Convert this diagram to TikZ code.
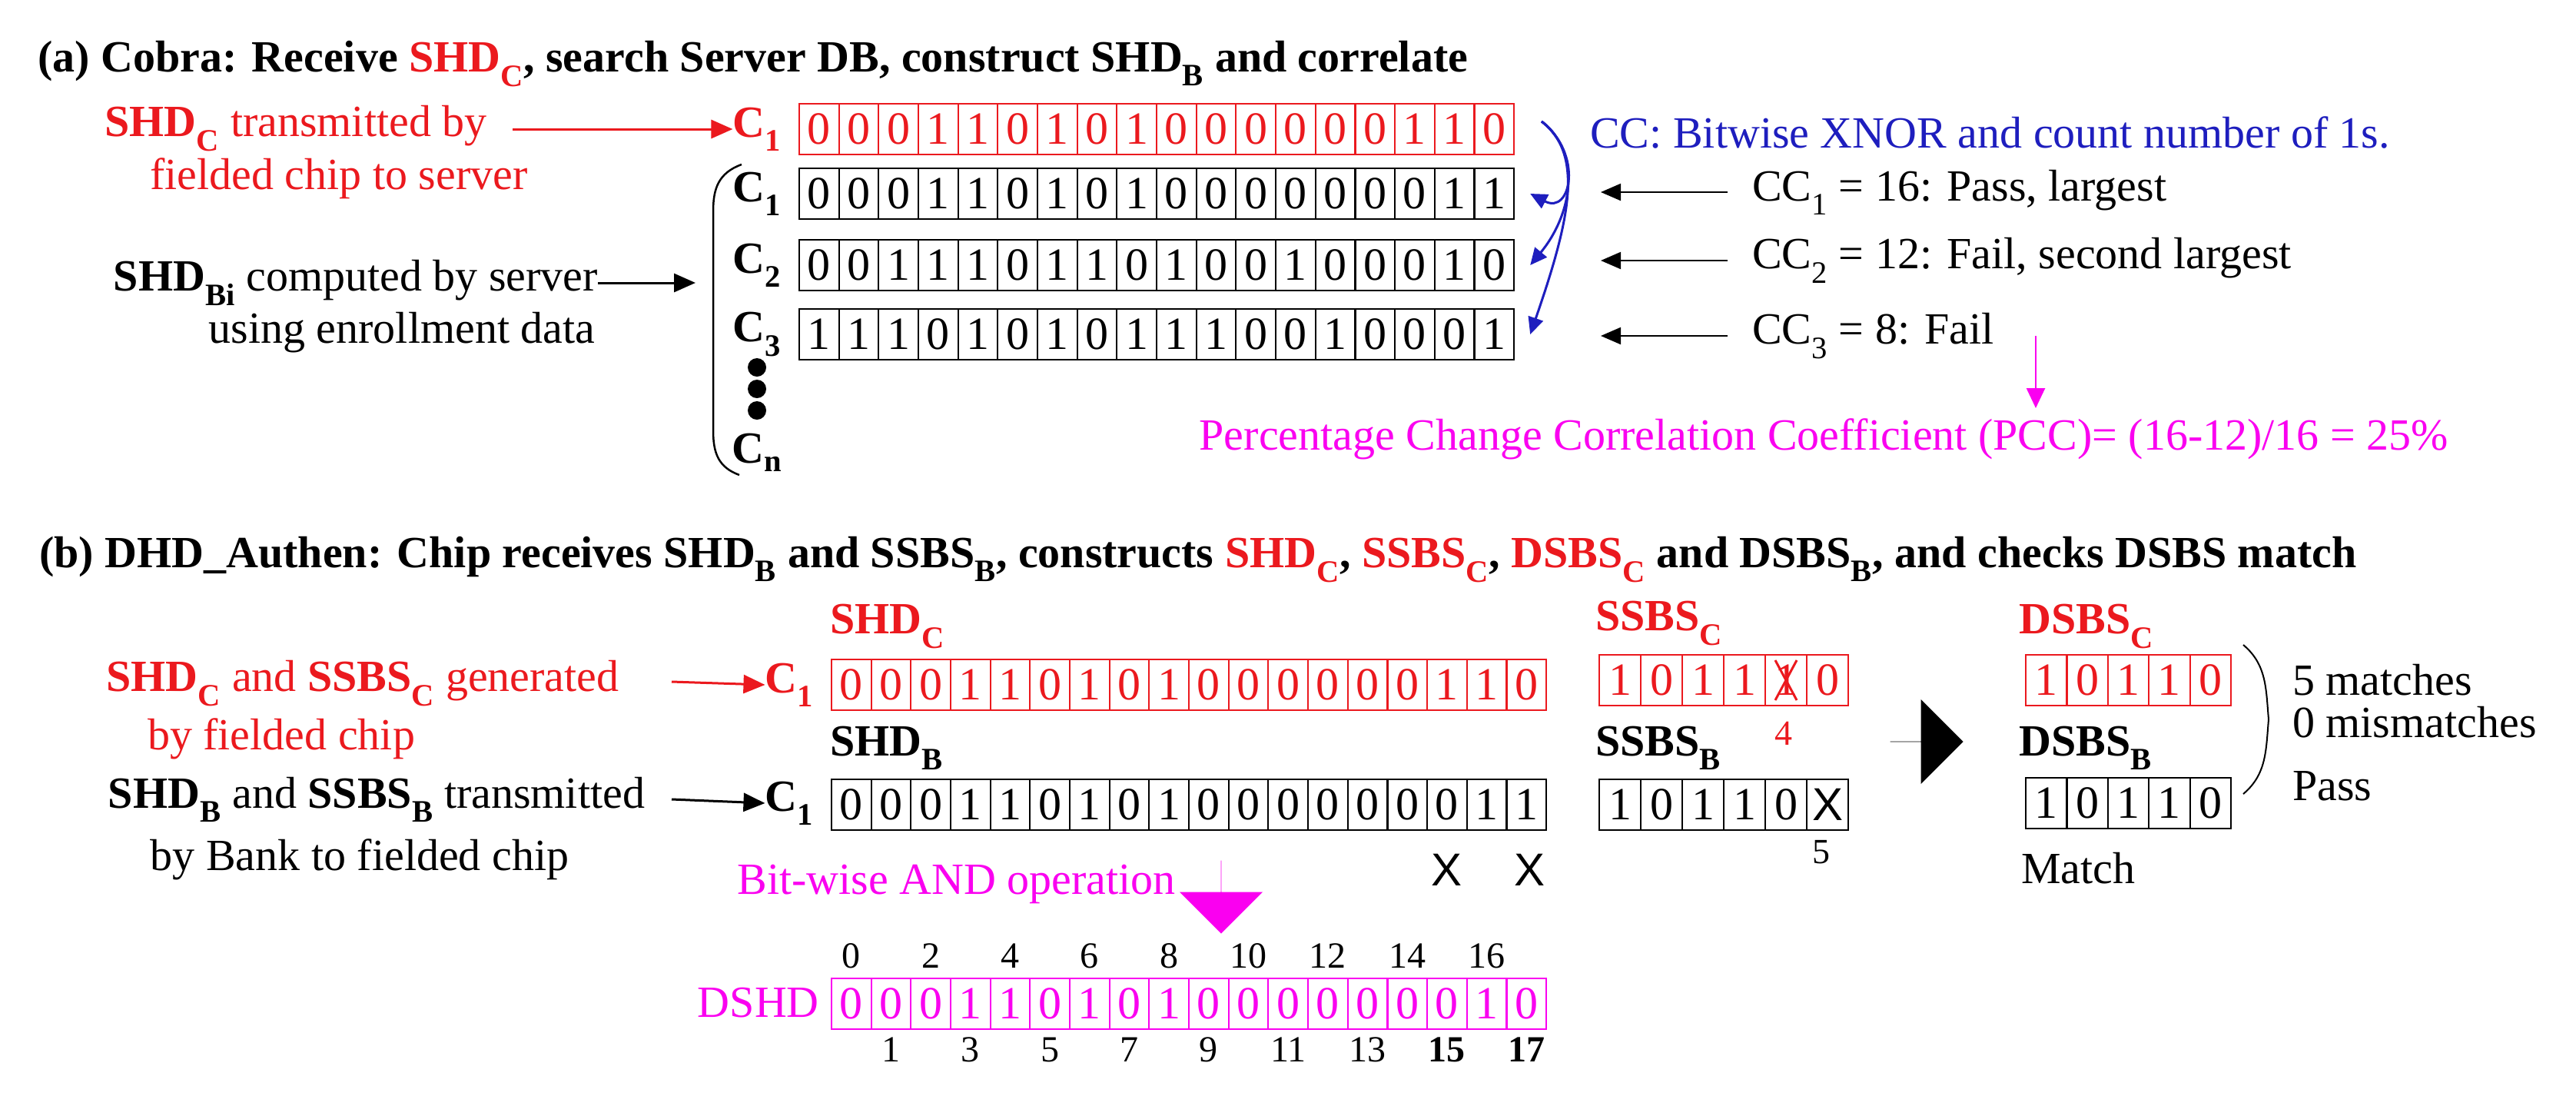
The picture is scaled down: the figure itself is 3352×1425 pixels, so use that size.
\documentclass[tikz,border=0pt]{standalone}
\usepackage{fontspec}
\setmainfont{Liberation Serif}
\newfontfamily\xfont{Liberation Sans}
\usetikzlibrary{shapes.arrows,arrows.meta}
\definecolor{myred}{RGB}{235,25,30}
\definecolor{myblue}{RGB}{30,30,190}
\definecolor{mymag}{RGB}{250,0,240}
\newcommand{\fs}[1]{\fontsize{#1}{#1}\selectfont}
\newcommand{\bitrow}[7]{%
  \foreach \b [count=\i] in {#7} {
    \node[cell, draw=#6, text=#6, minimum width=#4pt] (#1-\i) at ({#2+(\i-0.5)*#4}, #3) {\b};
  }}
\tikzset{
  cell/.style={rectangle, line width=2.2pt, minimum height=66pt, inner sep=0pt, font=\fs{60}},
  lbl/.style={inner sep=0pt, font=\fs{58}},
  blbl/.style={inner sep=0pt, font=\fs{58}\bfseries},
  ttl/.style={inner sep=0pt, anchor=west, font=\fs{58}\bfseries},
  arr/.style={line width=3pt, -{Triangle[length=28pt,width=24pt]}},
  thinarr/.style={line width=2pt, -{Triangle[length=26pt,width=22pt]}},
}
\begin{document}
\begin{tikzpicture}[x=1pt,y=-1pt]
\useasboundingbox (0,0) rectangle (3352,1425);
\fill[white] (0,0) rectangle (3352,1425);
% ---------- (a)
\node[ttl] (ta) at (49,83) {(a) Cobra: Receive \textcolor{myred}{SHD\textsubscript{C}}, search Server DB, construct SHD\textsubscript{B} and correlate};
\bitrow{ra}{1040}{168}{51.67}{66}{myred}{0,0,0,1,1,0,1,0,1,0,0,0,0,0,0,1,1,0}
\bitrow{rb}{1040}{252}{51.67}{66}{black}{0,0,0,1,1,0,1,0,1,0,0,0,0,0,0,0,1,1}
\bitrow{rc}{1040}{345}{51.67}{66}{black}{0,0,1,1,1,0,1,1,0,1,0,0,1,0,0,0,1,0}
\bitrow{rd}{1040}{435}{51.67}{66}{black}{1,1,1,0,1,0,1,0,1,1,1,0,0,1,0,0,0,1}
\node[blbl, text=myred] (ca) at (985,168) {C\textsubscript{1}};
\node[blbl] (cb) at (985,252) {C\textsubscript{1}};
\node[blbl] (cc) at (985,345) {C\textsubscript{2}};
\node[blbl] (cd) at (985,435) {C\textsubscript{3}};
\node[blbl] (cn) at (985,589) {C\textsubscript{n}};
\foreach \yy in {478,506,534} \fill (985,\yy) circle (12pt);
\draw[line width=2.5pt] (965,214) .. controls (935,225) and (928,245) .. (928,275) -- (928,560) .. controls (928,590) and (935,608) .. (962,618);
\node[lbl, text=myred] (la1) at (385,167) {\textbf{SHD\textsubscript{C}} transmitted by};
\node[lbl, text=myred] (la2) at (441,232) {fielded chip to server};
\coordinate (ra0) at (667,168);
\draw[arr, myred] (ra0) -- (ca.west);
\node[lbl] (lb1) at (463,368) {\textbf{SHD\textsubscript{Bi}} computed by server};
\node[lbl] (lb2) at (523,433) {using enrollment data};
\draw[arr] (lb1.east) -- (905,368);
% blue arrows
\coordinate (bs) at (2006,158);
\foreach \r in {rb,rc,rd} \draw[line width=3pt, myblue, -{Triangle[length=22pt,width=20pt]}] (bs) .. controls (2060,200) and (2045,280) .. ([xshift=20pt]\r-18.east);
\node[lbl, text=myblue, anchor=west] (cct) at (2069,172) {CC: Bitwise XNOR and count number of 1s.};
\node[lbl, anchor=west] (cc1) at (2280,250) {CC\textsubscript{1} = 16: Pass, largest};
\node[lbl, anchor=west] (cc2) at (2280,339) {CC\textsubscript{2} = 12: Fail, second largest};
\node[lbl, anchor=west] (cc3) at (2280,437) {CC\textsubscript{3} = 8: Fail};
\foreach \n in {cc1,cc2,cc3} \draw[thinarr] ([xshift=-32pt]\n.west) -- ++(-165,0);
\node[lbl, text=mymag, anchor=east] (pcc) at (3186,571) {Percentage Change Correlation Coefficient (PCC)= (16-12)/16 = 25\%};
\draw[line width=2.5pt, mymag, -{Triangle[length=26pt,width=24pt]}] (2649,437) -- (2649,531);
% ---------- (b)
\node[ttl] (tb) at (51,728) {(b) DHD\_Authen: Chip receives SHD\textsubscript{B} and SSBS\textsubscript{B}, constructs \textcolor{myred}{SHD\textsubscript{C}}, \textcolor{myred}{SSBS\textsubscript{C}}, \textcolor{myred}{DSBS\textsubscript{C}} and DSBS\textsubscript{B}, and checks DSBS match};
\node[blbl, text=myred, anchor=west] (shdc) at (1080,815) {SHD\textsubscript{C}};
\node[blbl, anchor=west] (shdb) at (1080,973) {SHD\textsubscript{B}};
\bitrow{sa}{1082}{891}{51.67}{66}{myred}{0,0,0,1,1,0,1,0,1,0,0,0,0,0,0,1,1,0}
\bitrow{sb}{1082}{1047}{51.67}{66}{black}{0,0,0,1,1,0,1,0,1,0,0,0,0,0,0,0,1,1}
\bitrow{sd}{1082}{1306}{51.67}{66}{mymag}{0,0,0,1,1,0,1,0,1,0,0,0,0,0,0,0,1,0}
\node[blbl, text=myred] (c1r) at (1027,891) {C\textsubscript{1}};
\node[blbl] (c1b) at (1027,1045) {C\textsubscript{1}};
\node[lbl, text=myred] (lc1) at (472,889) {\textbf{SHD\textsubscript{C}} and \textbf{SSBS\textsubscript{C}} generated};
\node[lbl, text=myred] (lc2) at (366,961) {by fielded chip};
\node[lbl] (ld1) at (490,1040) {\textbf{SHD\textsubscript{B}} and \textbf{SSBS\textsubscript{B}} transmitted};
\node[lbl] (ld2) at (468,1118) {by Bank to fielded chip};
\coordinate (pa) at (874,887);
\coordinate (pb) at (874,1040);
\draw[arr, myred] (pa) -- (c1r.west);
\draw[arr] (pb) -- (c1b.west);
\node[font=\xfont\fs{60}, inner sep=0pt] (x15) at (1882,1132) {X};
\node[font=\xfont\fs{60}, inner sep=0pt] (x17) at (1990,1132) {X};
\node[lbl, text=mymag, anchor=east] (and) at (1530,1150) {Bit-wise AND operation};
\node[single arrow, fill=mymag, draw=none, rotate=-90, minimum height=95pt, minimum width=108pt, single arrow head extend=35pt, inner sep=0pt] (mag) at (1589,1167) {};
\node[lbl, text=mymag, anchor=east] (dshd) at (1066,1305) {DSHD};
\foreach \k in {0,2,...,16} {\pgfmathtruncatemacro\c{\k+1}\node[lbl, font=\fs{48}] at ([yshift=62pt]sd-\c.center) {\k};}
\foreach \k in {1,3,...,13} {\pgfmathtruncatemacro\c{\k+1}\node[lbl, font=\fs{48}] at ([yshift=-60pt]sd-\c.center) {\k};}
\node[lbl, font=\fs{48}\bfseries] at ([yshift=-60pt]sd-16.center) {15};
\node[lbl, font=\fs{48}\bfseries] at ([yshift=-60pt]sd-18.center) {17};
% SSBS
\node[blbl, text=myred, anchor=west] (ssc) at (2076,811) {SSBS\textsubscript{C}};
\node[blbl, anchor=west] (ssb) at (2076,973) {SSBS\textsubscript{B}};
\bitrow{ua}{2081}{885}{54}{66}{myred}{1,0,1,1,1,0}
\bitrow{ub}{2081}{1047}{54}{66}{black}{1,0,1,1,0,{}}
\draw[myred, line width=3pt] ([shift={(-14pt,-26pt)}]ua-5.center) -- ([shift={(14pt,26pt)}]ua-5.center) ([shift={(14pt,-26pt)}]ua-5.center) -- ([shift={(-14pt,26pt)}]ua-5.center);
\node[lbl, text=myred, font=\fs{46}] (n4) at (2321,954) {4};
\node[font=\xfont\fs{60}, inner sep=0pt] (xb) at (ub-6.center) {X};
\node[lbl, font=\fs{46}] (n5) at (2370,1109) {5};
\node[single arrow, fill=black, draw=none, minimum height=95pt, minimum width=110pt, single arrow head extend=36pt, inner sep=0pt] (big) at (2507,965) {};
% DSBS
\node[blbl, text=myred, anchor=west] (dsc) at (2627,815) {DSBS\textsubscript{C}};
\node[blbl, anchor=west] (dsb) at (2627,973) {DSBS\textsubscript{B}};
\bitrow{va}{2636}{885}{53.4}{66}{myred}{1,0,1,1,0}
\bitrow{vb}{2636}{1045}{53.4}{66}{black}{1,0,1,1,0}
\draw[line width=2pt] (2919,839) to[out=-40,in=95] (2952,936) to[out=-95,in=40] (2919,1033);
\node[lbl, anchor=west] (m5) at (2983,885) {5 matches};
\node[lbl, anchor=west] (m0) at (2983,940) {0 mismatches};
\node[lbl, anchor=west] (ps) at (2983,1023) {Pass};
\node[lbl, anchor=west] (mt) at (2630,1130) {Match};
\end{tikzpicture}
\end{document}
